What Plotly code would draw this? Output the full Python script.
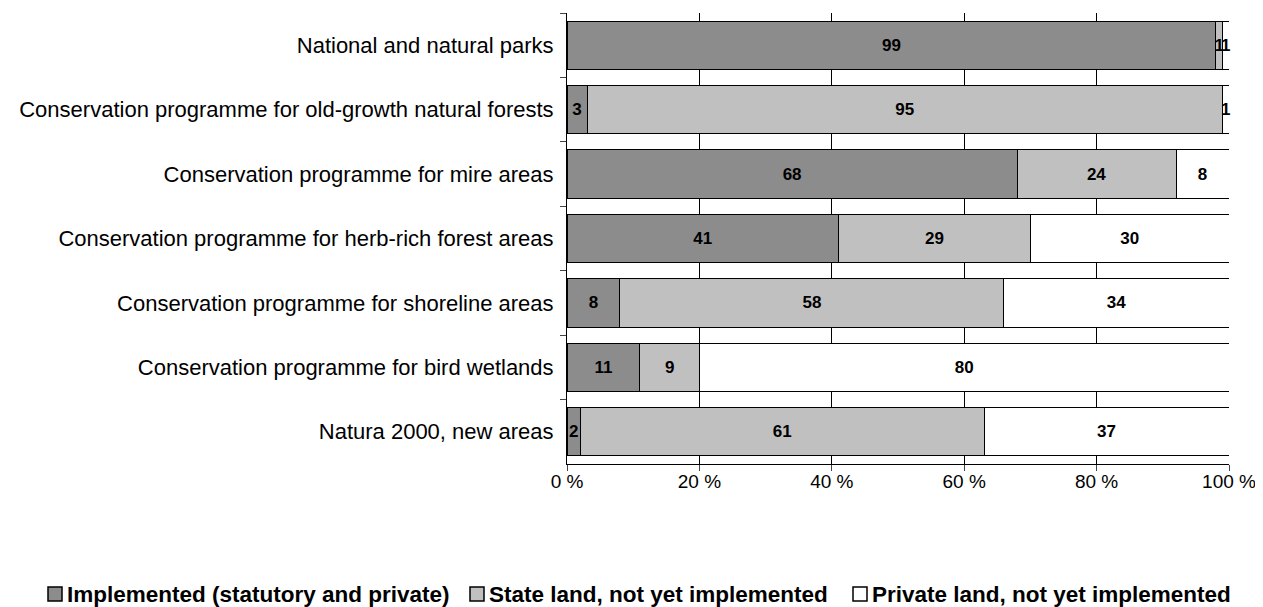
import plotly.graph_objects as go

categories = ["National and natural parks",
              "Conservation programme for old-growth natural forests",
              "Conservation programme for mire areas",
              "Conservation programme for herb-rich forest areas",
              "Conservation programme for shoreline areas",
              "Conservation programme for bird wetlands",
              "Natura 2000, new areas"]
implemented = [99, 3, 68, 41, 8, 11, 2]
state_land = [1, 95, 24, 29, 58, 9, 61]
private_land = [1, 1, 8, 30, 34, 80, 37]
series_names = ["Implemented (statutory and private)", "State land, not yet implemented",
                "Private land, not yet implemented"]
colors = ["#8c8c8c", "#c0c0c0", "#ffffff"]

W, H = 1255, 599
L, R, T, B = 559, 34, 5, 143
pw, ph = W - L - R, H - T - B

fig = go.Figure()
for name, vals, col in zip(series_names, [implemented, state_land, private_land], colors):
    fig.add_trace(go.Bar(
        y=categories, x=vals, name=name, orientation="h",
        marker=dict(color=col, line=dict(color="black", width=1)),
        text=[str(v) for v in vals], textposition="inside", insidetextanchor="middle",
        textfont=dict(family="Liberation Sans", size=17, color="black", weight="bold"),
        cliponaxis=False, showlegend=False,
    ))

# manual legend (one row, like the reference); positions in figure pixels
sq_px = [40, 462, 845]
y_leg = -(586 - (T + ph)) / ph
for name, col, px in zip(series_names, colors, sq_px):
    fig.add_shape(type="rect", xref="paper", yref="paper",
                  x0=(px - L) / pw, x1=(px - L + 14) / pw,
                  y0=y_leg - 7 / ph, y1=y_leg + 7 / ph,
                  fillcolor=col, line=dict(color="black", width=1.5))
    fig.add_annotation(xref="paper", yref="paper", x=(px - L + 17) / pw, y=y_leg,
                       text=name, showarrow=False, xanchor="left", yanchor="middle",
                       font=dict(size=22.5, weight="bold"))

fig.update_layout(
    barmode="stack", barnorm="percent", bargap=0.25,
    width=W, height=H,
    margin=dict(l=L, r=R, t=T, b=B),
    plot_bgcolor="white", paper_bgcolor="white",
    font=dict(family="Liberation Sans", size=21, color="black"),
    uniformtext=dict(minsize=17, mode="show"),
    showlegend=False,
    xaxis=dict(range=[0, 100], tickvals=[0, 20, 40, 60, 80, 100],
               ticktext=["0 %", "20 %", "40 %", "60 %", "80 %", "100 %"],
               showgrid=True, gridcolor="black", gridwidth=1, ticks="outside",
               ticklen=6, showline=True, linecolor="black", zeroline=False,
               automargin=False, tickfont=dict(size=19), ticklabelstandoff=-6),
    yaxis=dict(autorange="reversed", ticks="outside", tickson="boundaries", ticklen=6,
               showline=True, linecolor="black", automargin=False,
               tickfont=dict(size=22), ticklabelstandoff=8),
)
fig.write_html("out.html")
